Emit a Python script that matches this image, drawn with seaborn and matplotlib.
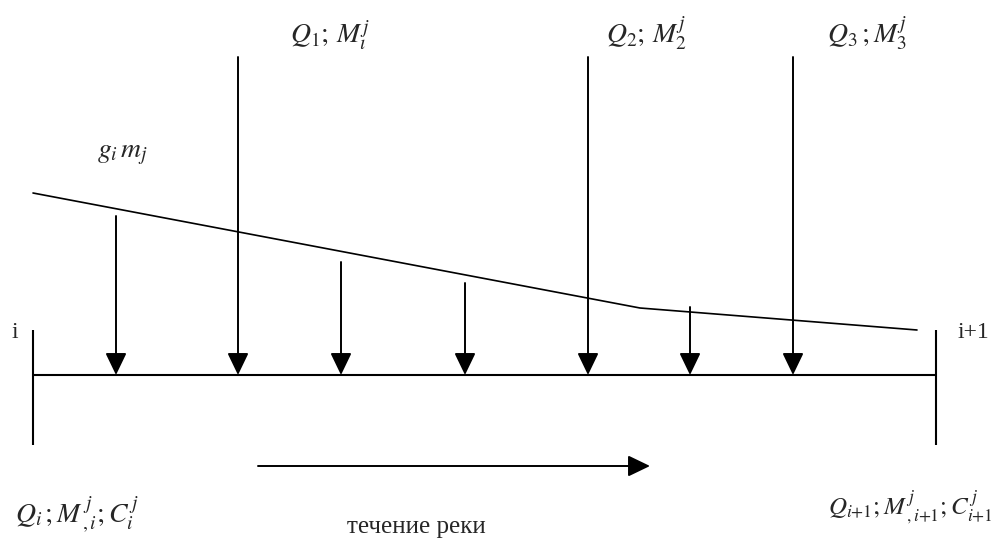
import matplotlib
matplotlib.use("Agg")
import matplotlib.pyplot as plt
import pandas as pd
import seaborn as sns

# схема участка реки между створами i и i+1 (координаты в пикселях рисунка)
river_y = 375
river_x = [33, 936]
section_x = [33, 936]
section_y = [330, 445]

# распределённая нагрузка g_i m_j (ломаная линия)
load_x = [33, 640, 917]
load_y = [193, 308, 330]

# сосредоточенные выпуски Q_k; M_k^j
outlet_x = [238, 588, 793]
outlet_top = 57
# распределённые притоки
diffuse_x = [116, 341, 465, 690]
diffuse_top = [216, 262, 283, 307]

flow_x = [258, 650]
flow_y = 466

outlet_labels = [r"$Q_1;\,M_{\iota}^{j}$", r"$Q_2;\,M_2^{j}$", r"$Q_3\,;M_3^{j}$"]
outlet_label_x = [290, 606, 827]

sns.set_theme(style="white")
plt.rcParams["mathtext.fontset"] = "stix"
plt.rcParams["font.family"] = ["Liberation Serif", "DejaVu Serif"]

fig = plt.figure(figsize=(9.93, 5.41), dpi=100)
ax = fig.add_axes([0, 0, 1, 1])
ax.set_xlim(0, 993)
ax.set_ylim(541, 0)
ax.axis("off")

# русло и створы
ax.plot(river_x, [river_y, river_y], color="black", lw=1.5)
ax.vlines(section_x, section_y[0], section_y[1], color="black", lw=1.5)

# линия нагрузки
df_load = pd.DataFrame({"x": load_x, "y": load_y})
sns.lineplot(data=df_load, x="x", y="y", color="black", lw=1.2, ax=ax,
             sort=False, estimator=None)

arrow_kw = dict(arrowstyle="-|>,head_length=1.35,head_width=0.65",
                mutation_scale=10, color="black", lw=1.4,
                shrinkA=0, shrinkB=0)

for x in outlet_x:
    ax.annotate("", xy=(x, river_y), xytext=(x, outlet_top), arrowprops=arrow_kw)
for x, top in zip(diffuse_x, diffuse_top):
    ax.annotate("", xy=(x, river_y), xytext=(x, top), arrowprops=arrow_kw)

# направление течения
ax.annotate("", xy=(flow_x[1], flow_y), xytext=(flow_x[0], flow_y), arrowprops=arrow_kw)

# подписи
for lab, x in zip(outlet_labels, outlet_label_x):
    ax.text(x, 43, lab, fontsize=20, va="baseline", ha="left")
ax.text(97, 157, r"$g_i\,m_j$", fontsize=20, va="baseline", ha="left")
ax.text(11, 338, "i", fontsize=17, va="baseline", ha="left")
ax.text(958, 338, "i+1", fontsize=17, va="baseline", ha="left")
ax.text(15, 523, r"$Q_i\,;M_{\,,i}^{\,j};C_i^{\,j}$", fontsize=20, va="baseline", ha="left")
ax.text(828, 515, r"$Q_{i{+}1};M_{\,,i{+}1}^{\,j};C_{i{+}1}^{\,j}$", fontsize=18,
        va="baseline", ha="left")
ax.text(347, 533, "течение реки", fontsize=18, va="baseline", ha="left")

fig.savefig("out.png", dpi=100, facecolor="white")
